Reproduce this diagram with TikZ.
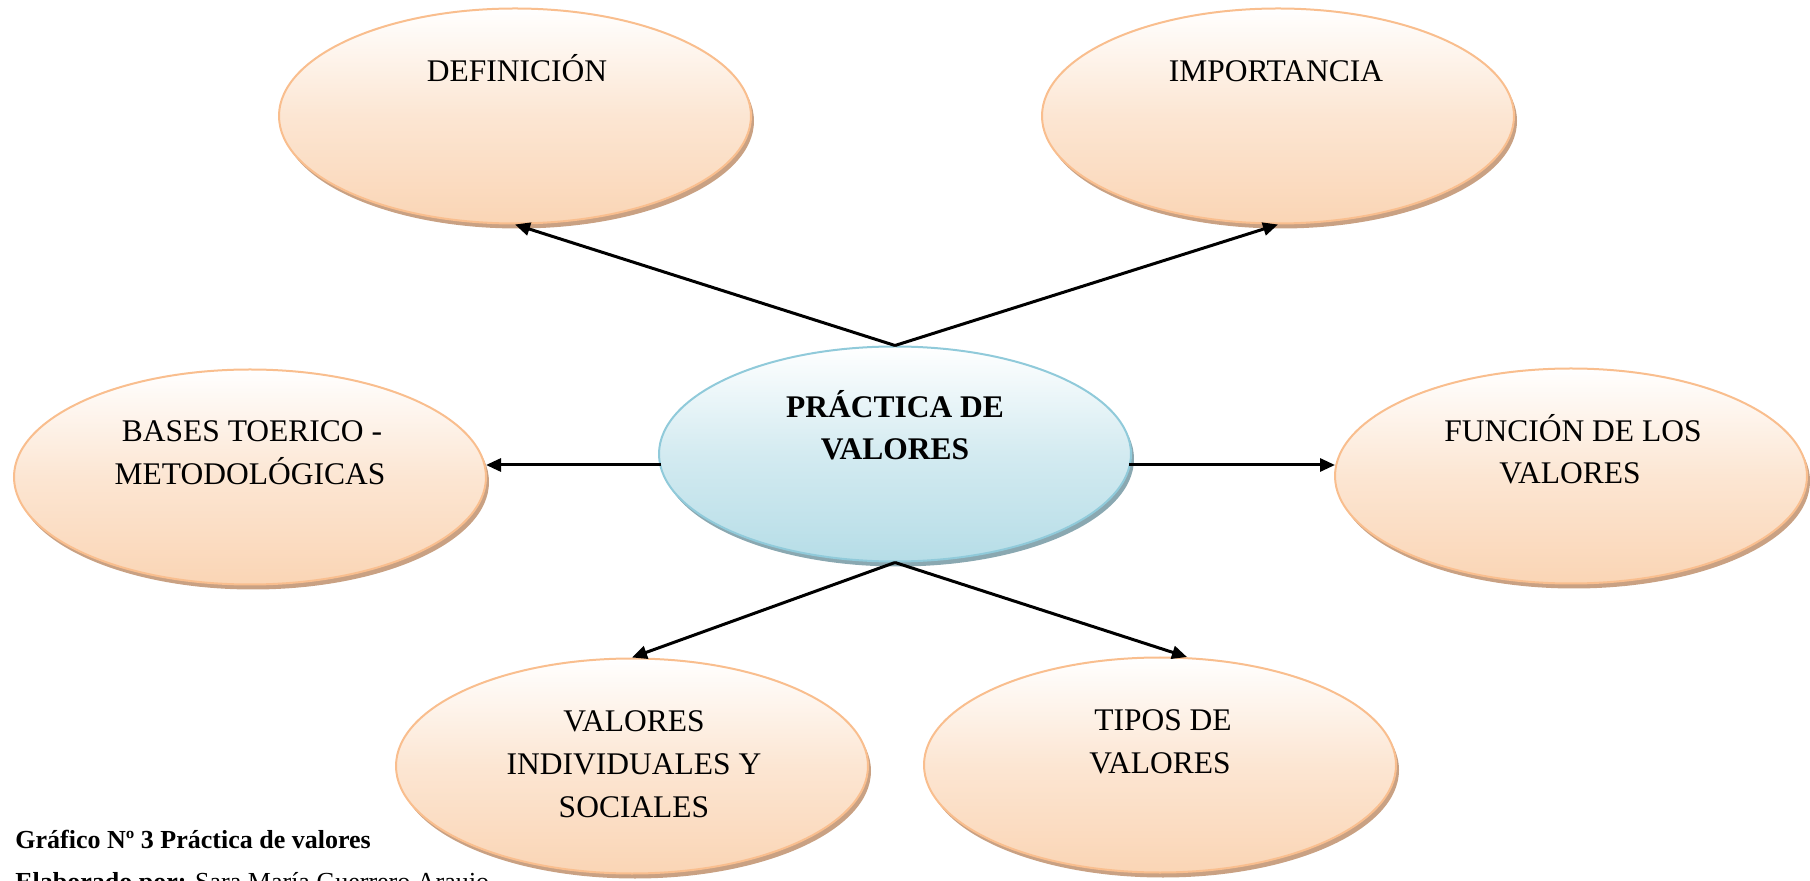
\documentclass[tikz,border=0pt]{standalone}
\usepackage{fontspec}
\setmainfont{Liberation Serif}
\usetikzlibrary{shapes.geometric,arrows.meta,shadows,calc}
\definecolor{peachB}{HTML}{FAD5B5}
\definecolor{peachL}{HTML}{F9BE8E}
\definecolor{peachS}{HTML}{C9A183}
\definecolor{blueB}{HTML}{B6DDE7}
\definecolor{blueL}{HTML}{90CADA}
\definecolor{blueS}{HTML}{8AA8B1}
\begin{document}
\begin{tikzpicture}[x=0.5pt,y=-0.5pt,
  ovalbase/.style={ellipse, minimum width=236pt, minimum height=107.5pt, inner sep=0pt, line width=1pt},
  oval/.style={ovalbase, draw=peachL, top color=white, bottom color=peachB, middle color=peachB!60!white,
    drop shadow={shadow xshift=1.5pt, shadow yshift=-2.5pt, fill=peachS, opacity=1}},
  coreoval/.style={ovalbase, draw=blueL, top color=white, bottom color=blueB, middle color=blueB!60!white,
    drop shadow={shadow xshift=1.5pt, shadow yshift=-2.5pt, fill=blueS, opacity=1}},
  txt/.style={anchor=base, inner sep=0pt, font=\fontsize{15.75}{22}\selectfont},
  boldtxt/.style={txt, font=\fontsize{15.75}{22}\selectfont\bfseries},
  captxt/.style={anchor=base west, inner sep=0pt, font=\fontsize{13}{15}\selectfont},
  arr/.style={-{Triangle[length=7.5pt,width=6.5pt]}, line width=1.5pt, black}]
\useasboundingbox (0,0) rectangle (1810,881);
% ellipses
\node[oval] (d) at (515,116) {};
\node[oval] (i) at (1278,116) {};
\node[coreoval] (c) at (895,454) {};
\node[oval] (b) at (250,477) {};
\node[oval] (f) at (1571,476) {};
\node[oval] (v) at (632,766) {};
\node[oval] (t) at (1160,765) {};
% texts
\node[txt] (dt) at (517,82) {DEFINICIÓN};
\node[txt] (it) at (1276,82) {IMPORTANCIA};
\node[boldtxt] (ct1) at (895,418) {PRÁCTICA DE};
\node[boldtxt] (ct2) at (895,460) {VALORES};
\node[txt] (bt1) at (252,442) {BASES TOERICO -};
\node[txt] (bt2) at (250,485) {METODOLÓGICAS};
\node[txt] (ft1) at (1573,442) {FUNCIÓN DE LOS};
\node[txt] (ft2) at (1570,484) {VALORES};
\node[txt] (vt1) at (634,731) {VALORES};
\node[txt] (vt2) at (634,774) {INDIVIDUALES Y};
\node[txt] (vt3) at (634,817) {SOCIALES};
\node[txt] (tt1) at (1163,730) {TIPOS DE};
\node[txt] (tt2) at (1160,773) {VALORES};
% arrows
\draw[arr] (c.north) -- (d.south);
\draw[arr] (c.north) -- (i.south);
\draw[arr] ($(c.center)+(-234,11)$) -- ($(b.center)+(236,-12)$);
\draw[arr] ($(c.center)+(234,11)$) -- ($(f.center)+(-236,-11)$);
\draw[arr] (c.south) -- (v.north);
\draw[arr] (c.south) -- ($(t.center)+(27,-108)$);
% caption
\node[captxt, font=\fontsize{13}{15}\selectfont\bfseries] (cap1) at (15,848) {Gráfico Nº 3 Práctica de valores};
\node[captxt] (cap2) at (15,890) {\textbf{Elaborado por:} Sara María Guerrero Araujo};
\end{tikzpicture}
\end{document}
